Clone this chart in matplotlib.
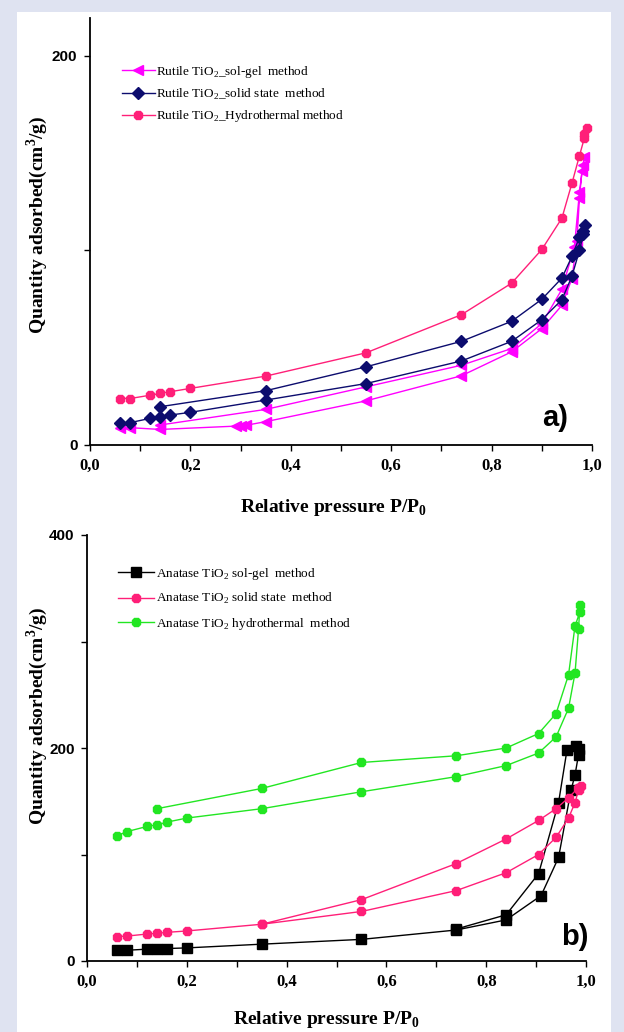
import matplotlib
matplotlib.use("Agg")
import matplotlib.pyplot as plt
from matplotlib.patches import Rectangle

plt.rcParams["font.family"] = ["Liberation Serif", "DejaVu Serif"]
plt.rcParams["mathtext.fontset"] = "custom"
plt.rcParams["mathtext.rm"] = "Liberation Serif"
plt.rcParams["mathtext.bf"] = "Liberation Serif:bold"

# panel a: rutile isotherms (adsorption up, desorption back down)
rutileSolGelP = [0.06, 0.08, 0.14, 0.29, 0.30, 0.31, 0.35, 0.55, 0.74, 0.84, 0.90, 0.94, 0.96,
                 0.97, 0.975, 0.98, 0.985, 0.982, 0.975, 0.965, 0.94, 0.90, 0.84, 0.74, 0.55, 0.35, 0.14]
rutileSolGelV = [8.5, 8.9, 8.0, 9.7, 9.7, 10.1, 12.0, 22.7, 35.6, 47.9, 59.8, 71.8, 85.5,
                 105, 127, 141, 148, 144, 130, 102, 80, 62.4, 49.6, 41.0, 29.9, 18.3, 10.3]
rutileSolidP = [0.06, 0.08, 0.12, 0.14, 0.16, 0.20, 0.35, 0.55, 0.74, 0.84, 0.90, 0.94, 0.96,
                0.975, 0.983, 0.986, 0.983, 0.975, 0.96, 0.94, 0.90, 0.84, 0.74, 0.55, 0.35, 0.14]
rutileSolidV = [11.1, 11.5, 13.7, 14.5, 15.4, 16.8, 23.1, 31.6, 43.2, 53.3, 64.4, 74.7, 86.7,
                100, 108.5, 113.3, 110, 106.8, 96.9, 85.8, 74.9, 63.6, 53.3, 40.2, 27.9, 19.7]
rutileHydroP = [0.06, 0.08, 0.12, 0.14, 0.16, 0.20, 0.35, 0.55, 0.74, 0.84, 0.90, 0.94, 0.96,
                0.975, 0.985, 0.99, 0.985]
rutileHydroV = [23.9, 23.9, 25.6, 26.5, 27.4, 29.1, 35.4, 47.4, 67.0, 83.2, 100.5, 116.6, 134.5,
                148.7, 158, 163, 160]

# panel b: anatase isotherms
anataseSolGelP = [0.06, 0.08, 0.12, 0.14, 0.16, 0.20, 0.35, 0.55, 0.74, 0.84, 0.91, 0.945, 0.97,
                  0.978, 0.985, 0.986, 0.979, 0.962, 0.945, 0.905, 0.84, 0.74]
anataseSolGelV = [10.1, 10.1, 11.1, 11.1, 11.7, 12.3, 15.8, 20.3, 29.1, 38.6, 61.4, 97.2, 160.4,
                  174.7, 193.7, 199, 201.6, 198.4, 148.7, 82, 43.4, 30]
anataseSolidP = [0.06, 0.08, 0.12, 0.14, 0.16, 0.20, 0.35, 0.55, 0.74, 0.84, 0.905, 0.94, 0.965,
                 0.978, 0.985, 0.99, 0.983, 0.965, 0.94, 0.905, 0.84, 0.74, 0.55, 0.35]
anataseSolidV = [22.8, 23.4, 25.3, 25.9, 26.9, 28.2, 34.5, 46.5, 66.1, 82.9, 100, 116.1, 134.2,
                 148.7, 160.4, 164.6, 162, 153.2, 143, 132, 114.6, 91.5, 57.6, 34.5]
anataseHydroP = [0.06, 0.08, 0.12, 0.14, 0.16, 0.20, 0.35, 0.55, 0.74, 0.84, 0.905, 0.94, 0.965,
                 0.978, 0.985, 0.988, 0.988, 0.978, 0.965, 0.94, 0.905, 0.84, 0.74, 0.55, 0.35, 0.14]
anataseHydroV = [117.7, 121.5, 126.3, 127.8, 130.4, 134.2, 143, 158.9, 173.1, 183.5, 195.3, 210.4, 237.3,
                 270.3, 311.4, 334.5, 328, 314.6, 268.7, 232.3, 213.6, 200, 192.7, 186.4, 162, 143]

xTicks = [0.0, 0.2, 0.4, 0.6, 0.8, 1.0]
xTickLabels = ["0,0", "0,2", "0,4", "0,6", "0,8", "1,0"]

W, H = 624, 1032
fig = plt.figure(figsize=(W / 100, H / 100), dpi=100)
fig.patch.set_facecolor("#dfe3f1")
fig.patches.append(Rectangle((17 / W, 0), 594 / W, 1 - 12 / H, transform=fig.transFigure,
                             facecolor="white", edgecolor="none", zorder=-10))


def styleAxes(ax, yMax, yTicks, yTickLabels):
    for side in ("top", "right"):
        ax.spines[side].set_visible(False)
    for side in ("left", "bottom"):
        ax.spines[side].set_linewidth(1.3)
    ax.set_xlim(0, 1.0)
    ax.set_ylim(0, yMax)
    ax.set_xticks(xTicks)
    ax.set_xticklabels(xTickLabels, fontweight="bold", fontsize=12)
    ax.set_xticks([0.1, 0.3, 0.5, 0.7, 0.9], minor=True)
    ax.set_yticks(yTicks)
    ax.set_yticklabels(yTickLabels, family="Liberation Sans", fontweight="bold", fontsize=11)
    ax.tick_params(axis="x", which="both", direction="out", length=4, width=1, pad=5)
    ax.tick_params(axis="y", direction="out", length=4, width=1, pad=5)
    ax.set_xlabel(r"Relative pressure P/P$_\mathbf{0}$", fontweight="bold", fontsize=14)
    ax.set_ylabel(r"Quantity adsorbed(cm$^\mathbf{3}$/g)", fontweight="bold", fontsize=14)


def pxBox(left, top, right, bottom):
    return [left / W, 1 - bottom / H, (right - left) / W, (bottom - top) / H]


# ---- panel a ----
axA = fig.add_axes(pxBox(90, 18, 592, 445))
axA.set_facecolor("none")
axA.plot(rutileSolGelP, rutileSolGelV, color="#ff00ff", marker="<", ms=6.5, lw=1,
         label=r"Rutile TiO$_2$_sol-gel  method")
axA.plot(rutileSolidP, rutileSolidV, color="#0c0c6e", marker="D", ms=6, lw=1,
         label=r"Rutile TiO$_2$_solid state  method")
axA.plot(rutileHydroP, rutileHydroV, color="#ff1f78", marker="8", ms=7, lw=1,
         label=r"Rutile TiO$_2$_Hydrothermal method")
styleAxes(axA, 219.5, [0, 100, 200], ["0", "", "200"])
axA.xaxis.set_label_coords(0.486, -0.122)
axA.yaxis.set_label_coords(-0.08, 0.515)
axA.legend(loc="upper left", bbox_to_anchor=(122 / W, 1 - 64 / H), bbox_transform=fig.transFigure,
           frameon=False, fontsize=9.5, handlelength=2.5, handletextpad=0.1, labelspacing=0.5,
           borderpad=0, borderaxespad=0)
fig.text(555 / W, 1 - 418 / H, "a)", family="Liberation Sans", fontweight="bold", fontsize=21,
         ha="center", va="center")

# ---- panel b ----
axB = fig.add_axes(pxBox(87, 535, 586, 961))
axB.set_facecolor("none")
axB.plot(anataseSolGelP, anataseSolGelV, color="black", marker="s", ms=6.5, lw=1,
         label=r"Anatase TiO$_2$ sol-gel  method")
axB.plot(anataseSolidP, anataseSolidV, color="#ff1f78", marker="8", ms=7, lw=1,
         label=r"Anatase TiO$_2$ solid state  method")
axB.plot(anataseHydroP, anataseHydroV, color="#22e622", marker="8", ms=7, lw=1,
         label=r"Anatase TiO$_2$ hydrothermal  method")
styleAxes(axB, 400, [0, 100, 200, 300, 400], ["0", "", "200", "", "400"])
axB.xaxis.set_label_coords(0.48, -0.112)
axB.yaxis.set_label_coords(-0.074, 0.575)
axB.legend(loc="upper left", bbox_to_anchor=(118 / W, 1 - 566 / H), bbox_transform=fig.transFigure,
           frameon=False, fontsize=9.5, handlelength=2.7, handletextpad=0.2, labelspacing=0.7,
           borderpad=0, borderaxespad=0)
fig.text(575 / W, 1 - 937 / H, "b)", family="Liberation Sans", fontweight="bold", fontsize=21,
         ha="center", va="center")

fig.savefig("out.png", dpi=100, facecolor=fig.get_facecolor())
